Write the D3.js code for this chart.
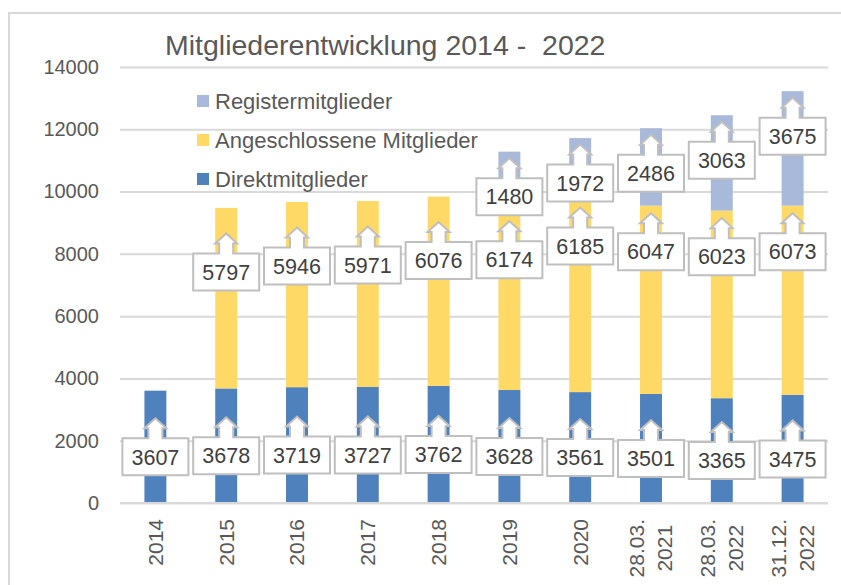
<!DOCTYPE html>
<html>
<head>
<meta charset="utf-8">
<script src="https://cdn.jsdelivr.net/npm/d3@7"></script>
<style>
  body { margin: 0; background: #fff; }
  svg { display: block; font-family: "Liberation Sans", Arial, sans-serif; }
</style>
</head>
<body>
<div id="chart"></div>
<script>
      // data
      var categories = ["2014", "2015", "2016", "2017", "2018", "2019", "2020",
                        "28.03.\n2021", "28.03.\n2022", "31.12.\n2022"];
      var direkt = [3607, 3678, 3719, 3727, 3762, 3628, 3561, 3501, 3365, 3475];
      var angeschlossen = [0, 5797, 5946, 5971, 6076, 6174, 6185, 6047, 6023, 6073];
      var register = [0, 0, 0, 0, 0, 1480, 1972, 2486, 3063, 3675];
      var seriesKeys = ["direkt", "angeschlossen", "register"];
      var seriesNames = ["Direktmitglieder", "Angeschlossene Mitglieder", "Registermitglieder"];
      var seriesColors = ["#4f81bd", "#ffd966", "#a9b9d9"];
      var yTicks = [0, 2000, 4000, 6000, 8000, 10000, 12000, 14000];
      var title = "Mitgliederentwicklung 2014 -\u00a0\u00a02022";

      var width = 841, height = 585;
      var plot = {left: 120, right: 828, top: 67, bottom: 503};

      var svg = d3.select("#chart").append("svg")
          .attr("width", width)
          .attr("height", height);

      // chart frame
      svg.append("rect")
          .attr("x", 9).attr("y", 13)
          .attr("width", 850).attr("height", 600)
          .attr("fill", "#fff")
          .attr("stroke", "#d9d9d9")
          .attr("stroke-width", 2);

      var table = categories.map(function(c, i) {
          return {cat: c, direkt: direkt[i], angeschlossen: angeschlossen[i], register: register[i]};
      });
      var stacked = d3.stack().keys(seriesKeys)(table);

      ////// scales //////
      var x = d3.scaleBand()
          .domain(categories)
          .range([plot.left, plot.right])
          .paddingInner(0.69)
          .paddingOuter(0.345);
      var y = d3.scaleLinear()
          .domain([0, 14000])
          .range([plot.bottom, plot.top]);

      ////// grid + y labels //////
      var yAxis = d3.axisLeft(y)
          .tickValues(yTicks)
          .tickSize(-(plot.right - plot.left))
          .tickPadding(21)
          .tickFormat(d3.format("d"));
      var gy = svg.append("g")
          .attr("transform", "translate(" + plot.left + ",0)")
          .call(yAxis);
      gy.select(".domain").remove();
      gy.selectAll(".tick line").attr("stroke", "#d9d9d9").attr("stroke-width", 2);
      gy.selectAll(".tick text")
          .attr("fill", "#595959")
          .style("font-size", "20px")
          .style("font-family", "Liberation Sans, Arial, sans-serif");

      // title
      svg.append("text")
          .attr("x", 165).attr("y", 55)
          .attr("fill", "#595959")
          .style("font-size", "28.5px")
          .text(title);

      ////// bars //////
      svg.append("g").selectAll("g")
          .data(stacked)
          .enter().append("g")
          .attr("fill", function(d, i) { return seriesColors[i]; })
          .selectAll("rect")
          .data(function(d) { return d; })
          .enter().append("rect")
          .attr("x", function(d) { return x(d.data.cat); })
          .attr("width", x.bandwidth())
          .attr("y", function(d) { return y(d[1]); })
          .attr("height", function(d) { return y(d[0]) - y(d[1]); });

      // x axis line
      svg.append("line")
          .attr("x1", plot.left).attr("x2", plot.right)
          .attr("y1", plot.bottom).attr("y2", plot.bottom)
          .attr("stroke", "#d9d9d9").attr("stroke-width", 2);

      ////// rotated category labels //////
      categories.forEach(function(c) {
          var lines = c.split("\n");
          var cx = x(c) + x.bandwidth() / 2;
          var g = svg.append("g");
          var texts = lines.map(function(l) {
              return g.append("text")
                  .attr("fill", "#595959")
                  .style("font-size", "21px")
                  .attr("text-anchor", "middle")
                  .attr("dy", "0.35em")
                  .text(l);
          });
          var maxLen = d3.max(texts, function(t) { return t.node().getComputedTextLength(); });
          var cy = 519 + maxLen / 2;
          texts.forEach(function(t, i) {
              var off = (i - (lines.length - 1) / 2) * 28;
              t.attr("transform", "translate(" + (cx + off) + "," + cy + ") rotate(-90)");
          });
      });

      ////// up-arrow callouts //////
      var boxW = 66, boxH = 37;
      function calloutPath(cx, cy) {
          var l = cx - boxW / 2, r = cx + boxW / 2, t = cy - boxH / 2, b = cy + boxH / 2;
          return "M" + l + "," + t +
              "L" + (cx - 7) + "," + t +
              "L" + (cx - 7) + "," + (t - 10) +
              "L" + (cx - 11) + "," + (t - 10) +
              "L" + cx + "," + (t - 20) +
              "L" + (cx + 11) + "," + (t - 10) +
              "L" + (cx + 7) + "," + (t - 10) +
              "L" + (cx + 7) + "," + t +
              "L" + r + "," + t +
              "L" + r + "," + b +
              "L" + l + "," + b + "Z";
      }

      var labels = [];
      categories.forEach(function(c, i) {
          var cx = x(c) + x.bandwidth() / 2;
          var s0 = stacked[0][i], s1 = stacked[1][i], s2 = stacked[2][i];
          // Direktmitglieder: a little below the middle of the segment
          labels.push({cx: cx, cy: (y(s0[0]) + y(s0[1])) / 2 + 10, v: direkt[i]});
          // Registermitglieder: just under the top of the column
          var regBottom = -Infinity;
          if (register[i] > 0) {
              var rc = y(s2[1]) + 45;
              labels.push({cx: cx, cy: rc, v: register[i]});
              regBottom = rc + boxH / 2;
          }
          // Angeschlossene: under the top of the yellow part, kept clear of the label above
          if (angeschlossen[i] > 0) {
              var ac = y(s1[1]) + (register[i] > 0 ? 46 : 64);
              ac = Math.max(ac, regBottom + 6 + 20 + boxH / 2);
              labels.push({cx: cx, cy: ac, v: angeschlossen[i]});
          }
      });

      var lg = svg.append("g").selectAll("g")
          .data(labels)
          .enter().append("g");
      lg.append("path")
          .attr("d", function(d) { return calloutPath(d.cx, d.cy); })
          .attr("fill", "#fff")
          .attr("stroke", "#bfbfbf")
          .attr("stroke-width", 2);
      lg.append("text")
          .attr("x", function(d) { return d.cx; })
          .attr("y", function(d) { return d.cy; })
          .attr("dy", "0.36em")
          .attr("text-anchor", "middle")
          .attr("fill", "#404040")
          .style("font-size", "21.5px")
          .text(function(d) { return d.v; });

      ////// legend (reverse stack order) //////
      var legendOrder = [2, 1, 0];
      var leg = svg.append("g").selectAll("g")
          .data(legendOrder)
          .enter().append("g")
          .attr("transform", function(d, i) { return "translate(197," + (101 + i * 39) + ")"; });
      leg.append("rect")
          .attr("x", 0).attr("y", -6)
          .attr("width", 12).attr("height", 12)
          .attr("fill", function(d) { return seriesColors[d]; });
      leg.append("text")
          .attr("x", 18).attr("y", 0)
          .attr("dy", "0.35em")
          .attr("fill", "#595959")
          .style("font-size", "22px")
          .text(function(d) { return seriesNames[d]; });
</script>
</body>
</html>
